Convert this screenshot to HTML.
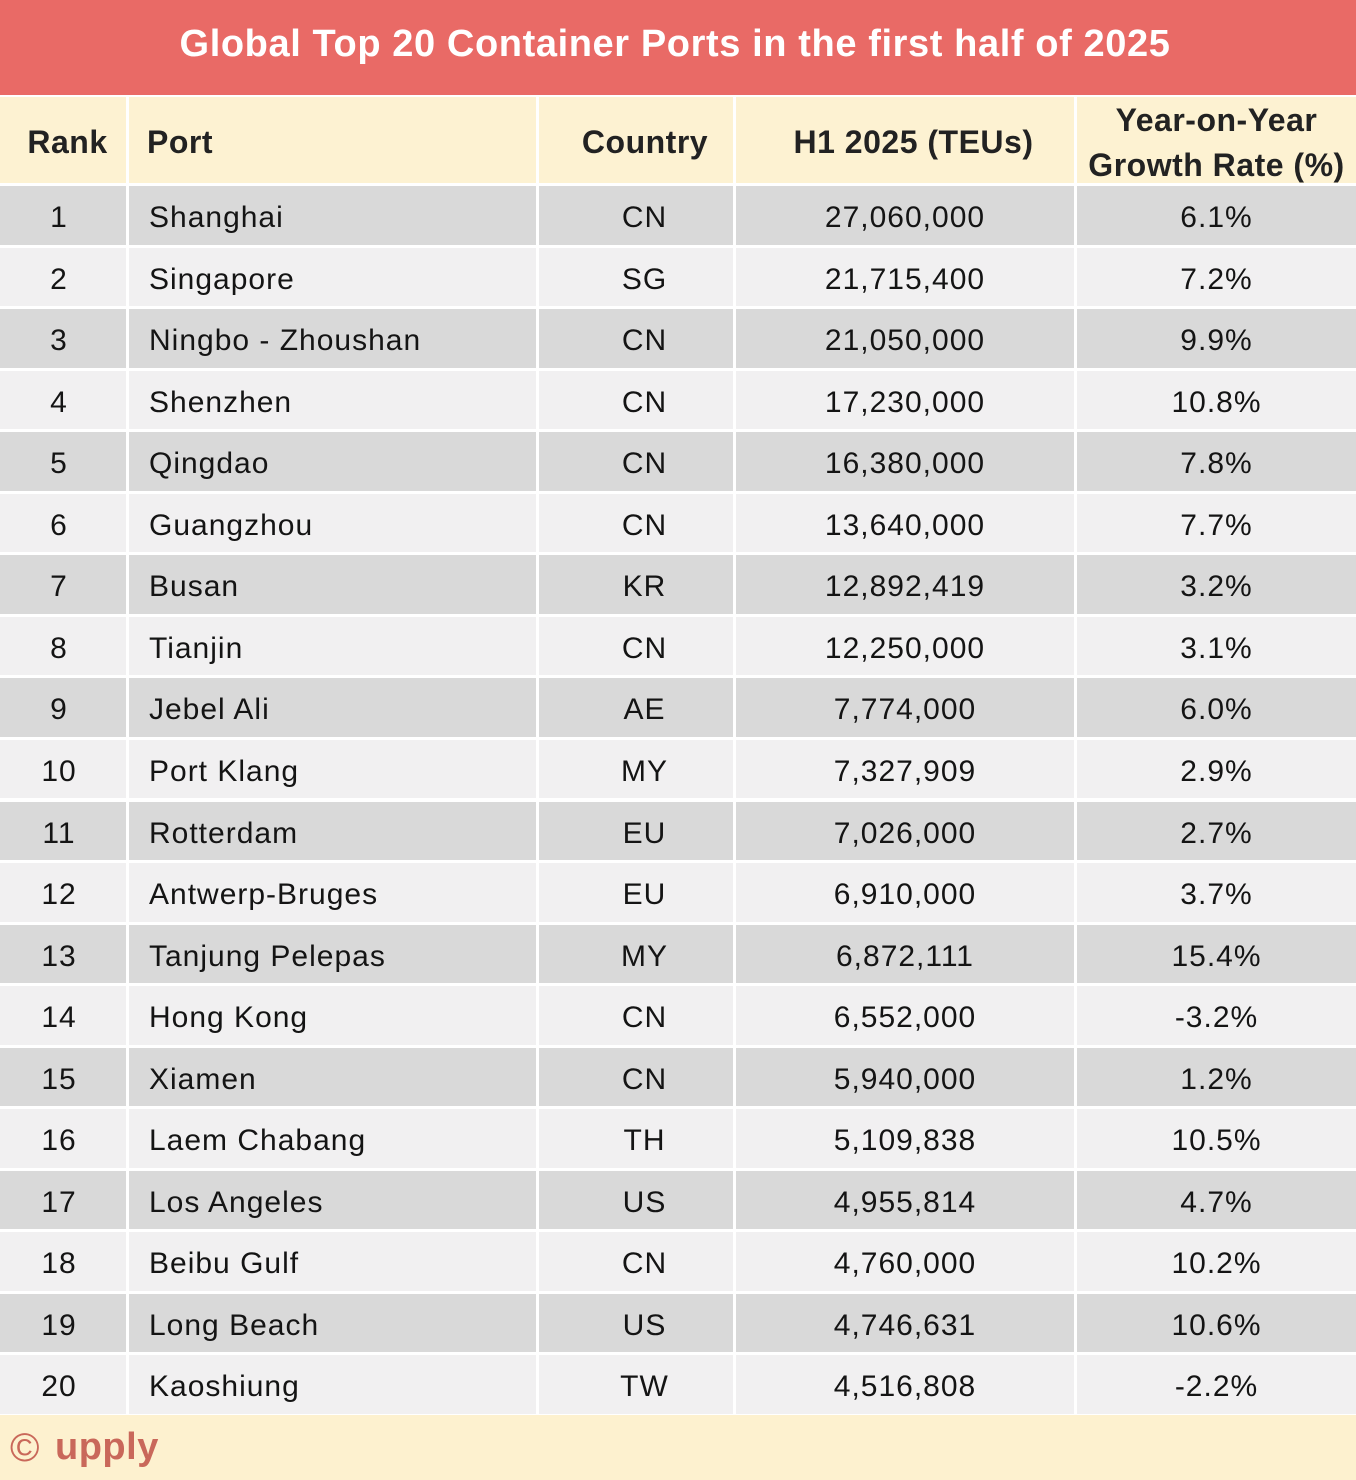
<!DOCTYPE html>
<html>
<head>
<meta charset="utf-8">
<style>
  html,body{margin:0;padding:0;}
  body{width:1356px;height:1480px;position:relative;background:#ffffff;overflow:hidden;
       font-family:"Liberation Sans",Arial,sans-serif;}
  .title{position:absolute;left:0;top:0;width:1356px;height:95px;background:#E96A66;
         color:#fff;font-weight:bold;font-size:38px;letter-spacing:0.6px;text-align:center;
         line-height:88px;padding-right:6px;box-sizing:border-box;}
  .row{position:absolute;left:0;width:1356px;height:58.5px;}
  .cell{position:absolute;top:0;height:100%;box-sizing:border-box;padding-top:3px;
        font-size:30px;letter-spacing:1px;color:#141414;line-height:58.5px;white-space:nowrap;}
  .c1{left:0;width:126px;text-align:center;padding-right:8px;}
  .c2{left:129px;width:407px;text-align:left;padding-left:20px;}
  .c3{left:539px;width:194px;text-align:center;padding-left:17px;}
  .c4{left:736px;width:338px;text-align:center;}
  .c5{left:1077px;width:279px;text-align:center;}
  .d .cell{background:#D9D9D9;}
  .l .cell{background:#F1F0F1;}
  .hdr{top:97px;height:86px;}
  .hdr .cell{background:#FDF2D2;font-weight:bold;font-size:32px;letter-spacing:0.5px;
             color:#222;line-height:86px;padding-top:2px;}
  .hdr .c1{padding-right:0;padding-left:9px;}
  .hdr .c2{padding-left:18px;}
  .hdr .c3{padding-left:18px;}
  .hdr .c4{padding-left:17px;}
  .hdr .c5{line-height:45px;padding-top:0;}
  .hdr .c5 span{display:block;}
  .footer{position:absolute;left:0;top:1415px;width:1356px;height:65px;background:#FDF1CF;}
  .copy{position:absolute;left:10px;top:1426px;font-size:40px;color:#C9685A;line-height:44px;}
  .upply{position:absolute;left:55px;top:1425px;font-size:38px;font-weight:bold;color:#C9685A;
         line-height:44px;letter-spacing:0.5px;}
</style>
</head>
<body>
<div class="title">Global Top 20 Container Ports in the first half of 2025</div>

<div class="row hdr">
  <div class="cell c1">Rank</div>
  <div class="cell c2">Port</div>
  <div class="cell c3">Country</div>
  <div class="cell c4">H1 2025 (TEUs)</div>
  <div class="cell c5"><span style="margin-top:1px">Year-on-Year</span><span>Growth Rate (%)</span></div>
</div>

<div class="row d" style="top:186px"><div class="cell c1">1</div><div class="cell c2">Shanghai</div><div class="cell c3">CN</div><div class="cell c4">27,060,000</div><div class="cell c5">6.1%</div></div>
<div class="row l" style="top:247.55px"><div class="cell c1">2</div><div class="cell c2">Singapore</div><div class="cell c3">SG</div><div class="cell c4">21,715,400</div><div class="cell c5">7.2%</div></div>
<div class="row d" style="top:309.1px"><div class="cell c1">3</div><div class="cell c2">Ningbo - Zhoushan</div><div class="cell c3">CN</div><div class="cell c4">21,050,000</div><div class="cell c5">9.9%</div></div>
<div class="row l" style="top:370.65px"><div class="cell c1">4</div><div class="cell c2">Shenzhen</div><div class="cell c3">CN</div><div class="cell c4">17,230,000</div><div class="cell c5">10.8%</div></div>
<div class="row d" style="top:432.2px"><div class="cell c1">5</div><div class="cell c2">Qingdao</div><div class="cell c3">CN</div><div class="cell c4">16,380,000</div><div class="cell c5">7.8%</div></div>
<div class="row l" style="top:493.75px"><div class="cell c1">6</div><div class="cell c2">Guangzhou</div><div class="cell c3">CN</div><div class="cell c4">13,640,000</div><div class="cell c5">7.7%</div></div>
<div class="row d" style="top:555.3px"><div class="cell c1">7</div><div class="cell c2">Busan</div><div class="cell c3">KR</div><div class="cell c4">12,892,419</div><div class="cell c5">3.2%</div></div>
<div class="row l" style="top:616.85px"><div class="cell c1">8</div><div class="cell c2">Tianjin</div><div class="cell c3">CN</div><div class="cell c4">12,250,000</div><div class="cell c5">3.1%</div></div>
<div class="row d" style="top:678.4px"><div class="cell c1">9</div><div class="cell c2">Jebel Ali</div><div class="cell c3">AE</div><div class="cell c4">7,774,000</div><div class="cell c5">6.0%</div></div>
<div class="row l" style="top:739.95px"><div class="cell c1">10</div><div class="cell c2">Port Klang</div><div class="cell c3">MY</div><div class="cell c4">7,327,909</div><div class="cell c5">2.9%</div></div>
<div class="row d" style="top:801.5px"><div class="cell c1">11</div><div class="cell c2">Rotterdam</div><div class="cell c3">EU</div><div class="cell c4">7,026,000</div><div class="cell c5">2.7%</div></div>
<div class="row l" style="top:863.05px"><div class="cell c1">12</div><div class="cell c2">Antwerp-Bruges</div><div class="cell c3">EU</div><div class="cell c4">6,910,000</div><div class="cell c5">3.7%</div></div>
<div class="row d" style="top:924.6px"><div class="cell c1">13</div><div class="cell c2">Tanjung Pelepas</div><div class="cell c3">MY</div><div class="cell c4">6,872,111</div><div class="cell c5">15.4%</div></div>
<div class="row l" style="top:986.15px"><div class="cell c1">14</div><div class="cell c2">Hong Kong</div><div class="cell c3">CN</div><div class="cell c4">6,552,000</div><div class="cell c5">-3.2%</div></div>
<div class="row d" style="top:1047.7px"><div class="cell c1">15</div><div class="cell c2">Xiamen</div><div class="cell c3">CN</div><div class="cell c4">5,940,000</div><div class="cell c5">1.2%</div></div>
<div class="row l" style="top:1109.25px"><div class="cell c1">16</div><div class="cell c2">Laem Chabang</div><div class="cell c3">TH</div><div class="cell c4">5,109,838</div><div class="cell c5">10.5%</div></div>
<div class="row d" style="top:1170.8px"><div class="cell c1">17</div><div class="cell c2">Los Angeles</div><div class="cell c3">US</div><div class="cell c4">4,955,814</div><div class="cell c5">4.7%</div></div>
<div class="row l" style="top:1232.35px"><div class="cell c1">18</div><div class="cell c2">Beibu Gulf</div><div class="cell c3">CN</div><div class="cell c4">4,760,000</div><div class="cell c5">10.2%</div></div>
<div class="row d" style="top:1293.9px"><div class="cell c1">19</div><div class="cell c2">Long Beach</div><div class="cell c3">US</div><div class="cell c4">4,746,631</div><div class="cell c5">10.6%</div></div>
<div class="row l" style="top:1355.45px"><div class="cell c1">20</div><div class="cell c2">Kaoshiung</div><div class="cell c3">TW</div><div class="cell c4">4,516,808</div><div class="cell c5">-2.2%</div></div>

<div class="footer"></div>
<div class="copy">©</div>
<div class="upply">upply</div>
</body>
</html>
